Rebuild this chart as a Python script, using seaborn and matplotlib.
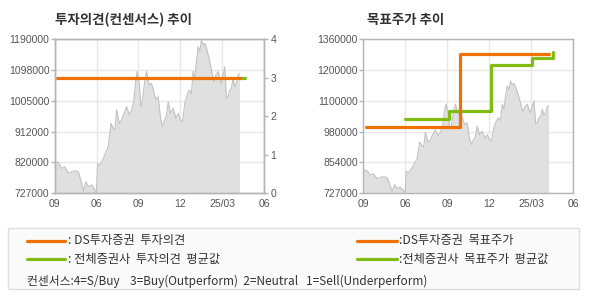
import numpy as np
import pandas as pd
import matplotlib
matplotlib.use("Agg")
import matplotlib.pyplot as plt
import seaborn as sns
from matplotlib.lines import Line2D
from matplotlib.patches import Rectangle

# ---------------- data ----------------
x_labels = ["09", "06", "09", "12", "25/03", "06"]

# price series (period index on the x axis, KRW)
price_t = [0.000, 0.087, 0.167, 0.246, 0.326, 0.405, 0.485, 0.564, 0.644, 0.684,
           0.747, 0.803, 0.882, 0.962, 0.995, 1.025, 1.081, 1.161, 1.224, 1.280,
           1.343, 1.399, 1.439, 1.479, 1.542, 1.598, 1.653, 1.717, 1.781, 1.836,
           1.892, 1.932, 1.971, 2.019, 2.059, 2.099, 2.154, 2.194, 2.258, 2.313,
           2.369, 2.417, 2.472, 2.528, 2.576, 2.615, 2.671, 2.711, 2.766, 2.830,
           2.893, 2.949, 3.005, 3.052, 3.108, 3.164, 3.211, 3.267, 3.307, 3.347,
           3.386, 3.426, 3.466, 3.506, 3.545, 3.585, 3.625, 3.688, 3.744, 3.800,
           3.847, 3.903, 3.943, 3.983, 4.022, 4.062, 4.102, 4.141, 4.181, 4.221,
           4.261, 4.300, 4.340, 4.380, 4.412]
price = [821400, 819000, 801000, 806000, 786000, 791000, 794000, 791000, 756000, 733000,
         761000, 746000, 751000, 736000, 728000, 816000, 811000, 831000, 851000, 867000,
         937000, 922000, 917000, 977000, 937000, 947000, 967000, 987000, 962000, 977000,
         1007000, 1062000, 1093000, 1057000, 987000, 1007000, 1067000, 1093000, 1052000, 1057000,
         1032000, 1007000, 1017000, 952000, 927000, 942000, 962000, 1002000, 967000, 982000,
         952000, 967000, 947000, 942000, 997000, 1022000, 1037000, 1027000, 1093000, 1072000,
         1123000, 1168000, 1153000, 1188000, 1173000, 1178000, 1163000, 1133000, 1097000, 1062000,
         1082000, 1093000, 1072000, 1057000, 1082000, 1107000, 1012000, 1017000, 1037000, 1042000,
         1072000, 1047000, 1057000, 1082000, 1087000]

# consensus (4=S/Buy 3=Buy 2=Neutral 1=Sell)
ds_opinion_t = [0.06, 4.42]
ds_opinion = [3, 3]
avg_opinion_t = [4.42, 4.55]
avg_opinion = [3, 3]

# target prices
ds_target_t = [0.06, 2.30, 4.41]
ds_target = [1000000, 1300000, 1300000]
avg_target_t = [1.00, 2.03, 3.03, 4.02, 4.52]
avg_target = [1030000, 1066000, 1254000, 1283000, 1306000]

left_ylim = (727000, 1190000)
left_ylabels = ["727000", "820000", "912000", "1005000", "1098000", "1190000"]
right_ylim = (727000, 1360000)
right_ylabels = ["727000", "854000", "980000", "1100000", "1200000", "1360000"]
opinion_ticks = [0, 1, 2, 3, 4]

ORANGE = "#f07000"
GREEN = "#80bc14"
SPINE = "#b4b4b4"
GRID = "#e8e8e8"
TXT = "#555555"

# ---------------- style ----------------
sns.set_theme(style="white")
plt.rcParams["font.family"] = ["Noto Sans CJK KR", "DejaVu Sans"]

fig = plt.figure(figsize=(5.9, 3.0), dpi=100)
fig.patch.set_facecolor("white")

W, H = 590.0, 300.0
ax1 = fig.add_axes([54.7 / W, 107 / H, 209.3 / W, 153.7 / H])
ax2 = fig.add_axes([363.3 / W, 107 / H, 210 / W, 153.7 / H])

price_df = pd.DataFrame({"t": price_t, "price": price})


def base_axis(ax, ylim, ylabels):
    ax.set_facecolor("white")
    ax.set_xlim(0, 5)
    ax.set_ylim(*ylim)
    ax.set_xticks(range(len(x_labels)))
    ax.set_xticklabels(x_labels)
    ticks = np.linspace(ylim[0], ylim[1], len(ylabels))
    ax.set_yticks(ticks)
    ax.set_yticklabels(ylabels)
    ax.grid(True, color=GRID, lw=1)
    ax.set_axisbelow(True)
    for s in ax.spines.values():
        s.set_color(SPINE)
        s.set_linewidth(1)
    ax.tick_params(axis="y", which="both", left=True, length=3, width=1, color=SPINE,
                   pad=0.8, labelsize=7.5, labelcolor=TXT, labelfontfamily="Liberation Sans")
    ax.tick_params(axis="x", which="both", bottom=False, length=0, pad=4.5,
                   labelsize=7.5, labelcolor=TXT, labelfontfamily="Liberation Sans")
    ax.fill_between(price_df["t"], price_df["price"], ylim[0], color="#e0e0e0", lw=0, zorder=1)
    sns.lineplot(data=price_df, x="t", y="price", ax=ax, color="#c2c2c2", lw=0.8,
                 sort=False, zorder=2)
    ax.set_xlabel("")
    ax.set_ylabel("")


base_axis(ax1, left_ylim, left_ylabels)
base_axis(ax2, right_ylim, right_ylabels)

# opinion on twin axis
ax1r = ax1.twinx()
ax1r.set_ylim(0, 4)
ax1r.set_yticks(opinion_ticks)
ax1r.set_yticklabels([str(v) for v in opinion_ticks])
for s in ax1r.spines.values():
    s.set_color(SPINE)
    s.set_linewidth(1)
ax1r.tick_params(axis="y", right=True, length=3, width=1, color=SPINE, pad=1.5,
                 labelsize=7.5, labelcolor=TXT, labelfontfamily="Liberation Sans")
sns.lineplot(x=avg_opinion_t, y=avg_opinion, ax=ax1r, color=GREEN, lw=2.3)
sns.lineplot(x=ds_opinion_t, y=ds_opinion, ax=ax1r, color=ORANGE, lw=2.3)
ax1r.set_xlim(0, 5)
ax1r.set_ylabel("")

# target prices (step lines)
ax2.plot(avg_target_t, avg_target, drawstyle="steps-post", color=GREEN, lw=2.3, zorder=3)
ax2.plot(ds_target_t, ds_target, drawstyle="steps-post", color=ORANGE, lw=2.3, zorder=4)

# titles
fig.text(55 / W, 1 - 20 / H, "투자의견(컨센서스) 추이", fontsize=9.7, fontweight="bold",
         color="#333333", va="center", ha="left")
fig.text(367 / W, 1 - 20 / H, "목표주가 추이", fontsize=9.7, fontweight="bold",
         color="#333333", va="center", ha="left")

# legend box
fig.patches.append(Rectangle((8.3 / W, 1 - 289.3 / H), (579.3 - 8.3) / W, (289.3 - 228.3) / H,
                             transform=fig.transFigure, facecolor="#fafafa",
                             edgecolor="#dddddd", lw=1, zorder=0))

legend_rows = [
    (26.7, 65.0, 240.7, ORANGE, 68, ": DS투자증권  투자의견"),
    (26.7, 65.0, 259.0, GREEN, 68, ": 전체증권사  투자의견  평균값"),
    (357.3, 396.7, 240.7, ORANGE, 399, ":DS투자증권  목표주가"),
    (357.3, 396.7, 259.0, GREEN, 399, ":전체증권사  목표주가  평균값"),
]
for x0, x1, y, c, tx, label in legend_rows:
    fig.lines.append(Line2D([x0 / W, x1 / W], [1 - y / H, 1 - y / H],
                            transform=fig.transFigure, color=c, lw=2.3))
    fig.text(tx / W, 1 - y / H, label, fontsize=8.8, color="#333333", va="center", ha="left")

fig.text(26.7 / W, 1 - 281 / H,
         "컨센서스:4=S/Buy    3=Buy(Outperform)  2=Neutral   1=Sell(Underperform)",
         fontsize=8.5, color="#333333", va="center", ha="left")

fig.savefig("out.png", dpi=100, facecolor="white")
